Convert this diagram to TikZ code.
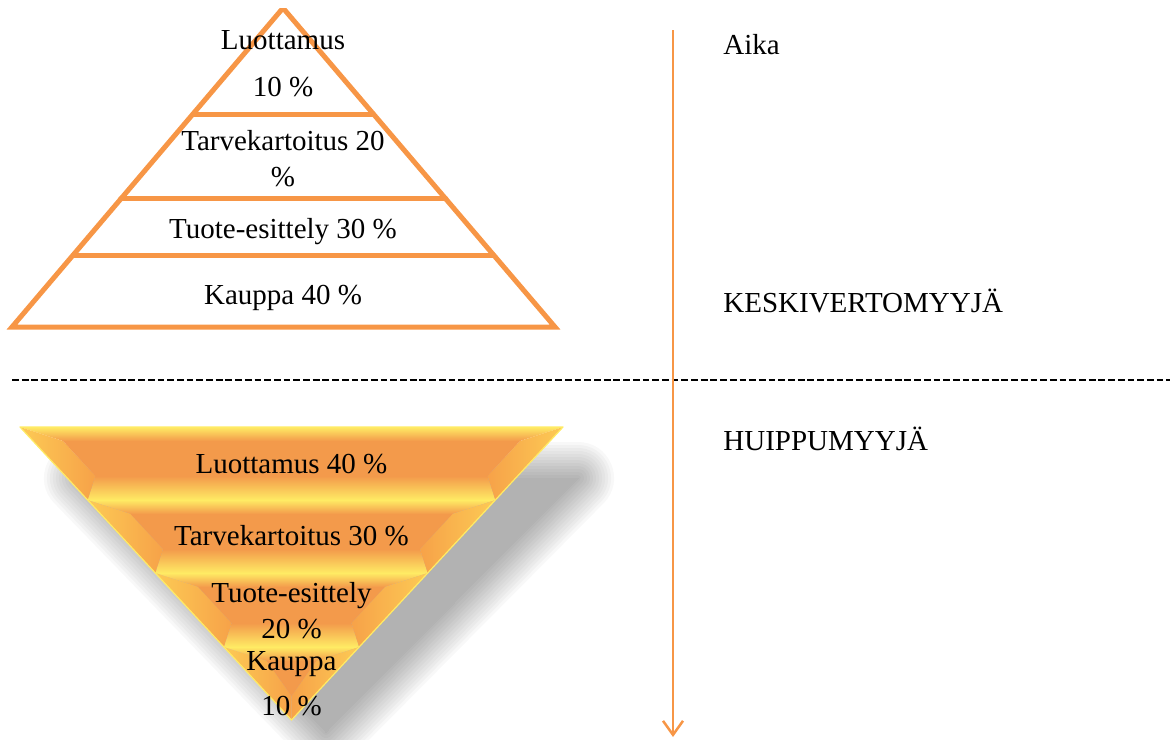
\documentclass[tikz,border=0pt]{standalone}
\usepackage{fontspec}
\setmainfont{Liberation Serif}
\usetikzlibrary{calc}
\usetikzlibrary{arrows.meta}

\definecolor{oranssi}{HTML}{F79646}
\definecolor{syva}{HTML}{F39A4B}
\definecolor{vaalea}{HTML}{FAAA46}
\definecolor{kelta}{HTML}{FFEB64}

\begin{document}
\begin{tikzpicture}[x=0.5pt,y=-0.5pt,
teksti/.style={inner sep=0pt,align=center,font=\fontsize{14.5}{18}\selectfont},
otsikko/.style={inner sep=0pt,anchor=base west,font=\fontsize{14.5}{18}\selectfont},
reuna/.style={draw=oranssi,line width=2.5pt,line join=miter},
porras/.style={draw=oranssi,line width=2.5pt,line cap=round},
aikanuoli/.style={draw=oranssi,line width=1.25pt,-{Straight Barb[length=7pt,width=10pt]}},
katko/.style={draw=black,line width=1pt,dash pattern=on 3.4pt off 1.45pt}]

\useasboundingbox (0,0) rectangle (1176,739);

\coordinate (huippu) at (283,8);
\coordinate (vasen) at (12,327);
\coordinate (oikea) at (555,327);
\begin{scope}
\clip (0,8) rectangle (600,345);
\draw[reuna] (huippu) -- (oikea) -- (vasen) -- cycle;
\end{scope}
\foreach \t in {.3323,.5987,.7743}
  \draw[porras] ($(huippu)!\t!(vasen)$) -- ($(huippu)!\t!(oikea)$);

\draw (283,63.5) node[teksti] (luottamus1) {Luottamus\\[5.5pt]10 \%};
\draw (283,159) node[teksti] (tarve1) {Tarvekartoitus 20\\\%};
\draw (283,232) node[teksti] (tuote1) {Tuote-esittely 30 \%};
\draw (283,298) node[teksti] (kauppa1) {Kauppa 40 \%};

\coordinate (katko1) at (12,380);
\coordinate (katko2) at (1170,380);
\draw[katko] (katko1) -- (katko2);

\coordinate (aika1) at (673,30);
\coordinate (aika2) at (673,737);
\draw[aikanuoli] (aika1) -- (aika2);

\draw (723,54) node[otsikko] (aika) {Aika};
\draw (723,312) node[otsikko] (keski) {KESKIVERTOMYYJÄ};
\draw (723,450) node[otsikko] (huippumyyja) {HUIPPUMYYJÄ};

\coordinate (kulma1) at (20,427);
\coordinate (kulma2) at (563,427);
\coordinate (karki) at (291.5,720);
\foreach \w in {36,33,...,0} {
  \begin{scope}[transparency group,opacity=.028]
  \filldraw[black,line width=\w pt,line join=round] (80,478) -- (578,478) -- (326,732) -- cycle;
  \end{scope}
}

\foreach \ya/\yb in {427/500,500/573,573/647,647/720} {
  \pgfmathsetmacro\ha{271.5-0.9266*(\ya-427)}
  \pgfmathsetmacro\hb{max(271.5-0.9266*(\yb-427),0)}
  \pgfmathsetmacro\yc{\ya+14}
  \pgfmathsetmacro\yd{\yb-24}
  \pgfmathsetmacro\hc{max(271.5-0.9266*(\yc-427)-30,0)}
  \pgfmathsetmacro\hd{max(271.5-0.9266*(\yd-427)-30,0)}
  \shade[top color=kelta,bottom color=syva] (291.5-\ha,\ya) -- (291.5+\ha,\ya) -- (291.5+\hc,\yc) -- (291.5-\hc,\yc) -- cycle;
  \shade[top color=syva,middle color=vaalea,bottom color=kelta] (291.5-\hd,\yd) -- (291.5+\hd,\yd) -- (291.5+\hb,\yb) -- (291.5-\hb,\yb) -- cycle;
  \shade[left color=kelta!50!vaalea,right color=syva!50!vaalea] (291.5-\ha,\ya) -- (291.5-\hc,\yc) -- (291.5-\hd,\yd) -- (291.5-\hb,\yb) -- cycle;
  \shade[left color=syva!50!vaalea,right color=kelta!50!vaalea] (291.5+\ha,\ya) -- (291.5+\hc,\yc) -- (291.5+\hd,\yd) -- (291.5+\hb,\yb) -- cycle;
  \fill[syva] (291.5-\hc,\yc) -- (291.5+\hc,\yc) -- (291.5+\hd,\yd) -- (291.5-\hd,\yd) -- cycle;
}
\draw[kelta,line width=0.6pt,line join=round] (kulma1) -- (kulma2) -- (karki) -- cycle;

\draw (291.5,464) node[teksti] (luottamus2) {Luottamus 40 \%};
\draw (291.5,536) node[teksti] (tarve2) {Tarvekartoitus 30 \%};
\draw (291.5,611) node[teksti] (tuote2) {Tuote-esittely\\20 \%};
\draw (291.5,683.5) node[teksti] (kauppa2) {Kauppa\\[4.5pt]10 \%};
\end{tikzpicture}
\end{document}
